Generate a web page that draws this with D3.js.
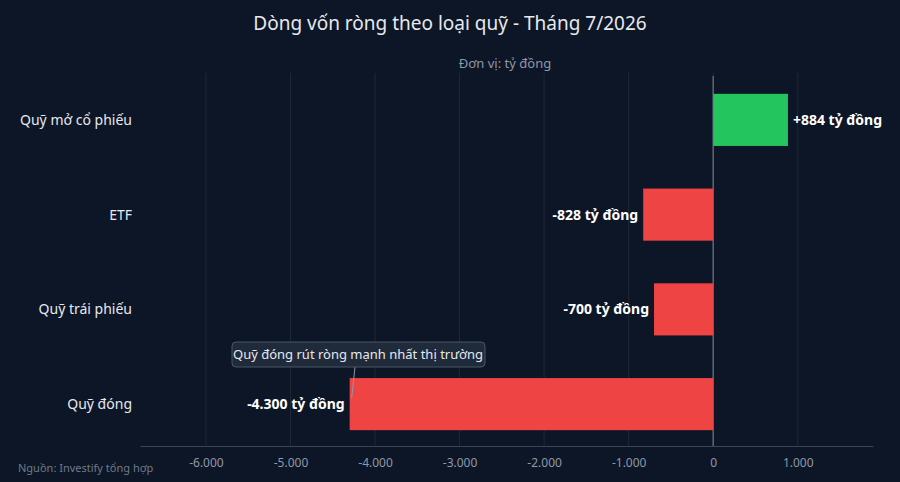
<!DOCTYPE html>
<html><head><meta charset="utf-8">
<script src="https://cdn.jsdelivr.net/npm/d3@7"></script>
<style>body{margin:0;background:#0d1626;font-family:"Noto Sans",sans-serif}</style>
</head><body><svg id="chart"></svg>
<script>
var categories = ['Quỹ mở cổ phiếu', 'ETF', 'Quỹ trái phiếu', 'Quỹ đóng'];
var values = [884, -828, -700, -4300];
var labels = ['+884 tỷ đồng', '-828 tỷ đồng', '-700 tỷ đồng', '-4.300 tỷ đồng'];
var ticks = [-6000, -5000, -4000, -3000, -2000, -1000, 0, 1000];

var W = 900, H = 482;
var svg = d3.select('#chart').attr('width', W).attr('height', H);
svg.append('rect').attr('width', W).attr('height', H).attr('fill', '#0d1626');

var x = d3.scaleLinear().domain([-6780, 1890]).range([140, 873]);
var y = d3.scaleBand().domain(categories).range([73, 451]).paddingInner(0.45).paddingOuter(0.22);

var fmt = function(d){ return d3.format(',')(d).replace(/,/g, '.').replace('−', '-'); };

// grid
svg.selectAll('.grid').data(ticks).enter().append('line')
  .attr('x1', function(d){return x(d);}).attr('x2', function(d){return x(d);})
  .attr('y1', 73).attr('y2', 446)
  .attr('stroke', d3.rgb(255,255,255,0.08)).attr('stroke-width', 1);

// zero line
svg.append('line').attr('x1', x(0)).attr('x2', x(0)).attr('y1', 76).attr('y2', 446)
  .attr('stroke', '#5b6576').attr('stroke-width', 1.5);

// axis
var axis = svg.append('g').attr('transform', 'translate(0,446)')
  .call(d3.axisBottom(x).tickValues(ticks).tickFormat(fmt).tickSize(0).tickPadding(12));
axis.select('.domain').attr('stroke', '#3a4556');
axis.selectAll('text').attr('fill', '#8e98a8').style('font-size', '12px').style('font-family', '"Noto Sans",sans-serif');

// bars
svg.selectAll('.bar').data(values).enter().append('rect')
  .attr('x', function(d){return x(Math.min(0, d));})
  .attr('width', function(d){return Math.abs(x(d) - x(0));})
  .attr('y', function(d, i){return y(categories[i]);})
  .attr('height', y.bandwidth())
  .attr('fill', function(d){return d > 0 ? '#22c55e' : '#ef4444';});

// value labels
svg.selectAll('.vl').data(values).enter().append('text')
  .attr('x', function(d){return d > 0 ? x(d) + 5 : x(d) - 5;})
  .attr('y', function(d, i){return y(categories[i]) + y.bandwidth()/2 + 5;})
  .attr('text-anchor', function(d){return d > 0 ? 'start' : 'end';})
  .attr('fill', '#ffffff').style('font-weight', 'bold').style('font-size', '14px')
  .text(function(d, i){return labels[i];});

// category labels
svg.selectAll('.cl').data(categories).enter().append('text')
  .attr('x', 132).attr('y', function(d){return y(d) + y.bandwidth()/2 + 5;})
  .attr('text-anchor', 'end').attr('fill', '#e6e9ee').style('font-size', '14px')
  .text(function(d){return d;});

// title
svg.append('text').attr('x', 450).attr('y', 30).attr('text-anchor', 'middle')
  .attr('fill', '#e6e9ee').style('font-size', '19px').text('Dòng vốn ròng theo loại quỹ - Tháng 7/2026');
svg.append('text').attr('x', 505).attr('y', 68).attr('text-anchor', 'middle')
  .attr('fill', '#8e98a8').style('font-size', '13px').text('Đơn vị: tỷ đồng');
svg.append('text').attr('x', 18).attr('y', 472)
  .attr('fill', '#6f7a8a').style('font-size', '11px').text('Nguồn: Investify tổng hợp');

// annotation
var ax = x(-4300), ay = y('Quỹ đóng') + 20;
svg.append('line').attr('x1', 355).attr('y1', 367).attr('x2', ax + 2).attr('y2', ay)
  .attr('stroke', '#8e98a8').attr('stroke-width', 1);
svg.append('rect').attr('x', 232).attr('y', 342).attr('width', 253).attr('height', 25).attr('rx', 4)
  .attr('fill', '#1f2a3a').attr('stroke', '#4a5566');
svg.append('text').attr('x', 358).attr('y', 359).attr('text-anchor', 'middle')
  .attr('fill', '#e6e9ee').style('font-size', '13px').text('Quỹ đóng rút ròng mạnh nhất thị trường');
</script></body></html>
